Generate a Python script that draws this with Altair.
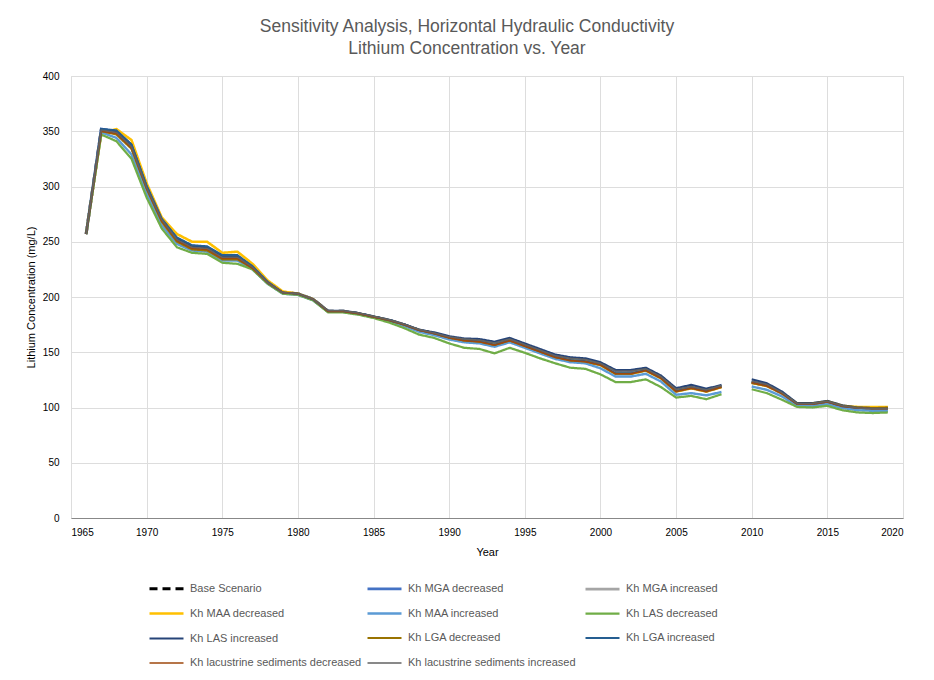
import altair as alt
import pandas as pd

years = list(range(1966, 2020))

series_names = [
    "Base Scenario",
    "Kh MGA decreased",
    "Kh MGA increased",
    "Kh MAA decreased",
    "Kh MAA increased",
    "Kh LAS decreased",
    "Kh LAS increased",
    "Kh LGA decreased",
    "Kh LGA increased",
    "Kh lacustrine sediments decreased",
    "Kh lacustrine sediments increased",
]

series_colors = ["#000000", "#4472C4", "#A5A5A5", "#FFC000", "#5B9BD5", "#70AD47",
                 "#264478", "#997300", "#255E91", "#9E480E", "#636363"]
series_widths = [3, 1.5, 1.5, 1.5, 1.5, 1.5, 1.5, 3.5, 3.5, 1.5, 1.5]
series_dashes = [[8, 5], [1, 0], [1, 0], [1, 0], [1, 0], [1, 0], [1, 0], [1, 0], [1, 0], [1, 0], [1, 0]]

base = [257, 351, 349, 336, 299, 270, 252, 245, 244, 236,
        236, 227, 213, 204, 203, 198, 187, 187, 185, 182,
        179, 175, 170, 167, 163.5, 161, 160, 157, 161, 156,
        151, 146, 143, 142, 139, 131, 131, 134, 127, 115,
        118, 115, 119, None, 123, 120, 113, 103, 103, 105,
        101, 99.5, 99, 99]
mga_dec = [257, 352, 350, 337, 300, 270, 253, 246, 245, 237,
           237, 227, 213, 204, 203, 198, 187, 187, 185, 182,
           179, 175, 170, 167, 163.5, 161.5, 160.5, 157.5, 161.5, 156.5,
           151.5, 146.5, 143.5, 142.5, 139.5, 131.5, 131.5, 134.5, 127.5, 115.5,
           118.5, 115.5, 119.5, None, 123.5, 120.5, 113, 103, 103, 105,
           101, 99.5, 99, 99]
mga_inc = [257, 350, 348, 335, 298, 269, 251, 244, 243, 235,
           235, 226, 213, 204, 203, 198, 187, 187, 185, 182,
           179, 175, 170, 167, 163, 160.5, 159.5, 156.5, 160.5, 155.5,
           150.5, 145.5, 142.5, 141.5, 138.5, 130.5, 130.5, 133.5, 126.5, 114.5,
           117.5, 114.5, 118.5, None, 122.5, 119.5, 112.5, 102.5, 102.5, 104.5,
           100.5, 99, 98.5, 98.5]
maa_dec = [257, 348, 352, 342, 303, 272, 257, 250, 250, 240,
           241, 230, 215, 205, 203, 198, 187, 187, 185, 182,
           179, 175, 170, 167, 163, 160.5, 159.5, 156.5, 160.5, 155.5,
           150.5, 145.5, 142.5, 141.5, 138.5, 130.5, 130.5, 133.5, 126.5, 114.5,
           117.5, 114.5, 118.5, None, 122.5, 119.5, 113, 103.5, 103.5, 105.5,
           101.5, 100.5, 100.5, 100.5]
maa_inc = [257, 349, 344, 329, 294, 265, 248, 242, 241, 233,
           233, 225, 212, 203, 202, 197, 186.5, 186.5, 184.5, 181.5,
           178, 174, 168.5, 165.5, 161.5, 159, 158, 155, 159, 154,
           149, 144, 141, 140, 135.5, 128, 128, 130.5, 123.5, 111.5,
           113, 111, 114, None, 119, 116, 110, 101.5, 101, 103,
           99.5, 97.5, 97, 97]
las_dec = [257, 347, 341, 325, 290, 262, 245, 240, 239, 231,
           230, 225, 212, 203, 202, 197, 186, 186, 184, 181,
           177, 172, 166, 163, 158, 154, 153, 149, 154, 149.5,
           144.5, 140, 136, 135, 130, 123, 123, 125.5, 118.5, 109,
           110.5, 107.5, 112, None, 116.5, 113, 107, 100.5, 100, 101.5,
           97.5, 95.5, 95, 95.5]
las_inc = [257, 352, 350, 338, 300, 270, 253, 246, 245, 237,
           237, 227, 213, 204, 203, 198, 187.5, 187.5, 185.5, 182.5,
           179.5, 175.5, 170.5, 168, 164.5, 162.5, 162, 159.5, 163, 158,
           153, 148, 145.5, 144.5, 141, 134, 134, 136, 129, 117.5,
           120.5, 117, 120.5, None, 125.5, 122, 114.5, 104, 104, 106,
           102, 100, 99.5, 99.5]
lga_dec = [257, 350, 347, 334, 298, 268, 250, 243, 242, 234,
           234, 226, 213, 204, 203, 198, 187, 187, 185, 182,
           179, 175, 170, 167, 163, 160.5, 159.5, 156.5, 160.5, 155.5,
           150.5, 145.5, 142.5, 141.5, 138.5, 130.5, 130.5, 133.5, 126.5, 114.5,
           117.5, 114.5, 118.5, None, 122, 119.5, 113, 103.5, 103.5, 105.5,
           101.5, 100, 99.5, 100]
lga_inc = [257, 352, 351, 338, 301, 271, 254, 247, 246, 238,
           238, 228, 214, 204, 203, 198, 187, 187, 185, 182,
           179, 175, 170, 167, 163.5, 161, 160, 157, 161, 156,
           151, 146, 143, 142, 139, 131, 131, 134, 127, 115,
           118, 115, 119, None, 123, 120, 113, 103, 103, 105,
           101, 99.5, 99, 99]
lac_dec = [257, 350, 348, 335, 298, 269, 251, 244, 243, 235,
           235, 226, 213, 204, 203, 198, 187, 187, 185, 182,
           179, 175, 170, 167, 163, 160.5, 159.5, 156.5, 160.5, 155.5,
           150.5, 145.5, 142.5, 141.5, 138.5, 130.5, 130.5, 133.5, 126.5, 114.5,
           117.5, 114.5, 118.5, None, 122.5, 119.5, 112.5, 103, 103, 105,
           101, 99.5, 99, 99]
lac_inc = [257, 351, 349, 336, 299, 270, 252, 245, 244, 236,
           236, 227, 213, 204, 203, 198, 187.5, 187.5, 185.5, 182.5,
           179.5, 175.5, 170.5, 167.5, 164, 162, 161, 158.5, 162, 157,
           152, 147, 144.5, 143.5, 140, 133, 133, 135, 128, 116.5,
           119, 116, 120, None, 124, 121, 113.5, 103.5, 103.5, 105.5,
           101.5, 99.5, 99, 99]

all_series = [base, mga_dec, mga_inc, maa_dec, maa_inc, las_dec, las_inc,
              lga_dec, lga_inc, lac_dec, lac_inc]

rows = []
for name, vals in zip(series_names, all_series):
    for yr, v in zip(years, vals):
        if v is None:
            continue
        rows.append({"Year": yr, "Value": v, "Series": name,
                     "Segment": 1 if yr < 2009 else 2})
df = pd.DataFrame(rows)

FONT = "Liberation Sans"
TXT = "#595959"

legend = alt.Legend(
    orient="none", legendX=77, legendY=494, columns=3, gridAlign="all",
    direction="horizontal",
    symbolType="stroke", symbolSize=1156, title=None,
    labelFont=FONT, labelFontSize=11, labelColor=TXT,
    labelLimit=400, labelOffset=5, columnPadding=-1, rowPadding=0,
)

chart = alt.Chart(df).mark_line().encode(
    x=alt.X("Year:Q",
            scale=alt.Scale(domain=[1965, 2020], nice=False, zero=False),
            axis=alt.Axis(values=list(range(1965, 2021, 5)), format="d",
                          title="Year", grid=True, ticks=False,
                          labelPadding=9, titlePadding=9,
                          titleFontWeight="normal")),
    y=alt.Y("Value:Q",
            scale=alt.Scale(domain=[0, 400], nice=False),
            axis=alt.Axis(values=list(range(0, 401, 50)), format="d",
                          title="Lithium Concentration (mg/L)", grid=True,
                          ticks=False, domain=False, labelPadding=12,
                          titleX=-40, titleY=221, titleBaseline="middle",
                          titleAlign="center", titleFontWeight="normal")),
    color=alt.Color("Series:N", scale=alt.Scale(domain=series_names, range=series_colors),
                    sort=series_names, legend=legend),
    strokeDash=alt.StrokeDash("Series:N", scale=alt.Scale(domain=series_names, range=series_dashes),
                              sort=series_names, legend=legend),
    strokeWidth=alt.StrokeWidth("Series:N", scale=alt.Scale(domain=series_names, range=series_widths),
                                sort=series_names, legend=legend),
    detail="Segment:N",
).properties(
    width=832,
    height=442,
    autosize=alt.AutoSizeParams(type="none"),
    padding={"left": 63, "top": 68, "right": 20, "bottom": 153},
    title=alt.Title(
        ["Sensitivity Analysis, Horizontal Hydraulic Conductivity",
         "Lithium Concentration vs. Year"],
        font=FONT, fontSize=17.5, fontWeight="normal", color=TXT,
        anchor="middle", dx=-20, offset=14, lineHeight=22),
).configure_view(
    stroke=None
).configure_axis(
    labelFont=FONT, labelFontSize=12.5, labelColor=TXT,
    titleFont=FONT, titleFontSize=13, titleFontWeight="normal", titleColor=TXT,
    gridColor="#D9D9D9", gridWidth=1, domainColor="#BFBFBF", domainWidth=1,
).configure(background="white")

chart.save("out.html", embed_options={"renderer": "svg", "actions": False})
